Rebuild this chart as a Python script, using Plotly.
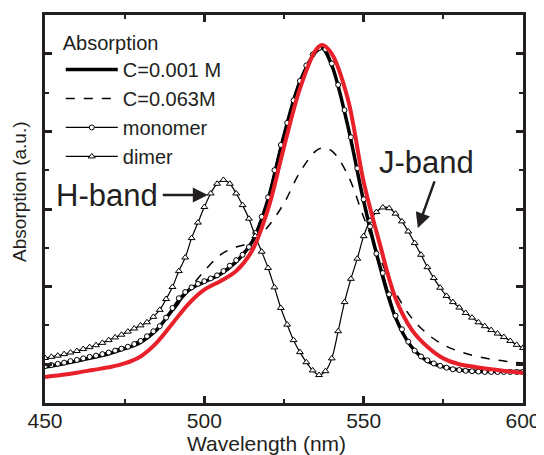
import plotly.graph_objects as go

# ---- data ----
wl5 = [450, 455, 460, 465, 470, 475, 480, 485, 490, 495, 500, 505, 510, 515, 520, 525,
       530, 535, 537, 540, 545, 550, 555, 560, 565, 570, 575, 580, 585, 590, 595, 600]
c001 = [0.93, 1.00, 1.08, 1.17, 1.27, 1.40, 1.56, 1.88, 2.40, 2.90, 3.12, 3.32, 3.64, 4.15, 5.25, 6.90,
        8.28, 9.05, 9.14, 8.70, 7.15, 5.20, 3.55, 2.20, 1.45, 1.08, 0.93, 0.85, 0.82, 0.81, 0.81, 0.81]
c063 = [0.97, 1.04, 1.12, 1.20, 1.32, 1.45, 1.62, 1.92, 2.35, 2.90, 3.40, 3.82, 4.02, 4.15, 4.55, 5.15,
        5.95, 6.50, 6.57, 6.50, 5.88, 4.79, 3.75, 2.85, 2.20, 1.78, 1.50, 1.33, 1.21, 1.13, 1.07, 1.03]
red = [0.67, 0.72, 0.78, 0.85, 0.92, 1.02, 1.20, 1.55, 2.05, 2.55, 2.92, 3.14, 3.40, 3.93, 5.00, 6.60,
       8.10, 9.10, 9.23, 9.00, 7.85, 5.70, 4.12, 2.70, 1.90, 1.45, 1.15, 1.00, 0.93, 0.87, 0.82, 0.77]

wl2 = list(range(450, 601, 2))
monomer = [0.95, 0.98, 1.01, 1.04, 1.08, 1.11, 1.15, 1.19, 1.22, 1.26, 1.30, 1.35, 1.40, 1.45, 1.52, 1.60,
           1.72, 1.85, 1.98, 2.20, 2.45, 2.70, 2.86, 2.98, 3.07, 3.14, 3.21, 3.29, 3.40, 3.54, 3.68, 3.82,
           4.02, 4.38, 4.80, 5.30, 6.00, 6.65, 7.22, 7.80, 8.30, 8.70, 8.98, 9.15, 9.12, 8.75, 8.20, 7.55,
           6.85, 6.05, 5.25, 4.55, 3.85, 3.35, 2.80, 2.25, 1.90, 1.58, 1.35, 1.20, 1.10, 1.02, 0.96, 0.91,
           0.87, 0.85, 0.83, 0.82, 0.81, 0.80, 0.80, 0.80, 0.80, 0.80, 0.80, 0.80]
dimer = [1.16, 1.19, 1.22, 1.26, 1.30, 1.34, 1.39, 1.44, 1.49, 1.55, 1.62, 1.69, 1.76, 1.84, 1.92, 2.00,
         2.08, 2.22, 2.40, 2.68, 2.99, 3.40, 3.75, 4.25, 4.65, 5.05, 5.40, 5.65, 5.75, 5.65, 5.40, 5.10,
         4.75, 4.30, 3.90, 3.48, 2.98, 2.45, 2.02, 1.62, 1.31, 1.05, 0.84, 0.72, 0.82, 1.15, 1.85, 2.60,
         3.20, 3.72, 4.30, 4.70, 4.92, 5.04, 5.02, 4.88, 4.68, 4.42, 4.12, 3.82, 3.50, 3.22, 2.97, 2.76,
         2.60, 2.46, 2.32, 2.20, 2.08, 1.98, 1.88, 1.79, 1.70, 1.60, 1.50, 1.42]

x_ticks = [450, 500, 550, 600]

AX = "#231f20"
TXT = "#231f20"
FONT = "Liberation Sans, Arial, sans-serif"

fig = go.Figure()
fig.add_trace(go.Scatter(x=wl5, y=c001, mode="lines", name="C=0.001 M",
                         line=dict(color="black", width=3.5, shape="spline")))
fig.add_trace(go.Scatter(x=wl5, y=c063, mode="lines", name="C=0.063M",
                         line=dict(color="black", width=1.5, dash="dash", shape="spline")))
fig.add_trace(go.Scatter(x=wl2, y=monomer, mode="lines+markers", name="monomer",
                         line=dict(color="black", width=1.2, shape="spline"),
                         marker=dict(symbol="circle", size=5, color="white",
                                     line=dict(color="black", width=1))))
fig.add_trace(go.Scatter(x=wl2, y=dimer, mode="lines+markers", name="dimer",
                         line=dict(color="black", width=1.2, shape="spline"),
                         marker=dict(symbol="triangle-up", size=6, color="white",
                                     line=dict(color="black", width=1))))
fig.add_trace(go.Scatter(x=wl5, y=red, mode="lines", showlegend=False,
                         line=dict(color="#e8202a", width=4, shape="spline")))

fig.add_annotation(x=501.1, y=5.36, ax=486.5, ay=5.36, xref="x", yref="y", axref="x", ayref="y",
                   showarrow=True, arrowhead=2, arrowsize=1.2, arrowwidth=2.5, arrowcolor=AX, text="")
fig.add_annotation(x=469.3, y=5.36, text="H-band", showarrow=False,
                   font=dict(size=31, color=TXT, family=FONT))
fig.add_annotation(x=567.0, y=4.51, ax=572.4, ay=5.75, xref="x", yref="y", axref="x", ayref="y",
                   showarrow=True, arrowhead=2, arrowsize=1.2, arrowwidth=2.5, arrowcolor=AX, text="")
fig.add_annotation(x=569.8, y=6.19, text="J-band", showarrow=False,
                   font=dict(size=31, color=TXT, family=FONT))

# axis titles as annotations (placed as in the reference)
fig.add_annotation(xref="paper", yref="paper", x=-0.0523, y=0.544, xanchor="center", yanchor="middle",
                   text="Absorption (a.u.)", textangle=-90, showarrow=False,
                   font=dict(size=19, color=TXT, family=FONT))
fig.add_annotation(xref="paper", yref="paper", x=0.464, y=-0.104, xanchor="center", yanchor="middle",
                   text="Wavelength (nm)", showarrow=False, font=dict(size=21, color=TXT, family=FONT))

# the page body has an 8px margin, so the figure is 8px smaller and margins offset by 8px
fig.update_layout(
    width=536, height=447,
    margin=dict(l=37, r=21, t=7, b=52),
    paper_bgcolor="white", plot_bgcolor="white",
    font=dict(family=FONT, color=TXT),
    legend=dict(x=0.033, y=0.977, xanchor="left", yanchor="top",
                title=dict(text="Absorption", font=dict(size=20)),
                font=dict(size=20), itemwidth=52, tracegroupgap=0,
                bgcolor="rgba(0,0,0,0)"),
)
fig.update_xaxes(range=[450, 600], tickvals=x_ticks, ticktext=[str(v) for v in x_ticks],
                 ticks="inside", ticklen=7, tickwidth=3, tickcolor=AX, ticklabelstandoff=-3,
                 minor=dict(tickvals=[475, 525, 575], ticks="inside", ticklen=4, tickwidth=2, tickcolor=AX),
                 showline=True, linewidth=3, linecolor=AX, mirror="allticks",
                 showgrid=False, zeroline=False, automargin=False,
                 tickfont=dict(size=21, color=TXT))
fig.update_yaxes(range=[0, 10], tickvals=[1, 3, 5, 7, 9], showticklabels=False,
                 ticks="inside", ticklen=7, tickwidth=3, tickcolor=AX,
                 minor=dict(tickvals=[2, 4, 6, 8], ticks="inside", ticklen=4, tickwidth=2, tickcolor=AX),
                 showline=True, linewidth=3, linecolor=AX, mirror="allticks",
                 showgrid=False, zeroline=False, automargin=False)

fig.write_html("out.html")
